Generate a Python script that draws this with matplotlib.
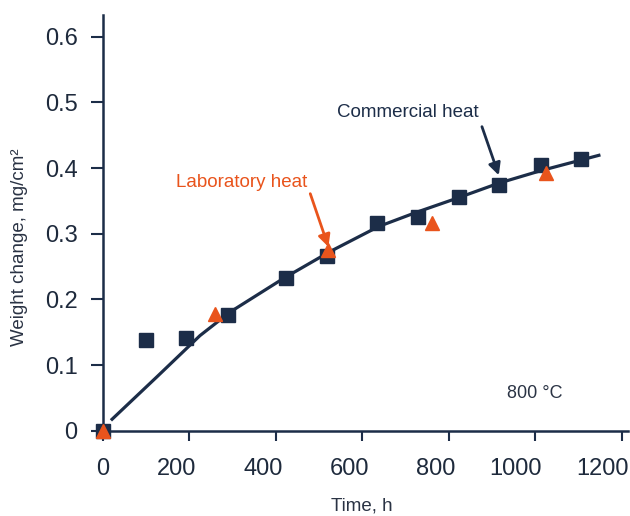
import matplotlib
matplotlib.use("Agg")
import matplotlib.pyplot as plt
import matplotlib.transforms as mtransforms

plt.rcParams['font.family'] = ['Liberation Sans', 'DejaVu Sans']

navy = '#1c2d48'
orange = '#e9541c'

# commercial heat (squares)
t_com = [0, 100, 193, 289, 424, 518, 634, 729, 825, 916, 1013, 1106]
w_com = [0.0, 0.138, 0.142, 0.176, 0.232, 0.266, 0.317, 0.326, 0.356, 0.374, 0.405, 0.414]

# laboratory heat (triangles)
t_lab = [0, 260, 522, 761, 1024]
w_lab = [0.0, 0.178, 0.276, 0.316, 0.392]

# fitted curve
t_fit = [19, 125, 225, 295, 418, 526, 638, 727, 819, 916, 1013, 1151]
w_fit = [0.016, 0.082, 0.145, 0.181, 0.232, 0.273, 0.311, 0.333, 0.354, 0.377, 0.396, 0.420]

x_ticks = [0, 200, 400, 600, 800, 1000, 1200]
y_ticks = [0, 0.1, 0.2, 0.3, 0.4, 0.5, 0.6]
y_labels = ['0', '0.1', '0.2', '0.3', '0.4', '0.5', '0.6']

fig = plt.figure(figsize=(6.3, 5.16), dpi=100)
ax = fig.add_axes([0.163, 0.165, 0.834, 0.806])

ax.plot(t_fit, w_fit, color=navy, lw=2.3, solid_capstyle='butt', zorder=2)
ax.plot(t_com, w_com, 's', color=navy, ms=9.5, clip_on=False, zorder=3)
ax.plot(t_lab, w_lab, '^', color=orange, ms=10, clip_on=False, zorder=4)

ax.set_xlim(0, 1215)
ax.set_ylim(0, 0.633)
ax.set_xticks(x_ticks)
ax.set_yticks(y_ticks)
ax.set_yticklabels(y_labels)

for s in ['top', 'right']:
    ax.spines[s].set_visible(False)
for s in ['left', 'bottom']:
    ax.spines[s].set_color(navy)
    ax.spines[s].set_linewidth(1.8)

ax.tick_params(axis='x', length=7.5, width=1.5, pad=12, color=navy,
               labelsize=17, labelcolor='#1e2a3c')
ax.tick_params(axis='y', length=9, width=1.5, pad=9, color=navy,
               labelsize=17, labelcolor='#1e2a3c')

# x tick labels sit right-aligned a little past the tick
shift = mtransforms.ScaledTranslation(7 / 100, 0, fig.dpi_scale_trans)
for lab in ax.get_xticklabels():
    lab.set_ha('right')
    lab.set_transform(lab.get_transform() + shift)

ax.set_xlabel('Time, h', fontsize=13.5, color='#2a3344')
ax.xaxis.set_label_coords(0.4927, -0.181)
ax.xaxis.label.set_va('center')
ax.set_ylabel('Weight change, mg/cm²', fontsize=13.5, color='#2a3344')
ax.yaxis.set_label_coords(-0.159, 0.442)
ax.yaxis.label.set_va('center')

arrow = dict(arrowstyle='-|>', lw=2, mutation_scale=18, shrinkA=0, shrinkB=0)

ax.text(705, 0.484, 'Commercial heat', color=navy, fontsize=13.5,
        ha='center', va='center')
ax.annotate('', xy=(916, 0.389), xytext=(877, 0.463),
            arrowprops=dict(arrow, color=navy))

ax.text(322, 0.378, 'Laboratory heat', color=orange, fontsize=13.5,
        ha='center', va='center')
ax.annotate('', xy=(522, 0.280), xytext=(480, 0.361),
            arrowprops=dict(arrow, color=orange))

ax.text(998, 0.057, '800 °C', color='#2a3344', fontsize=13, ha='center', va='center')

fig.savefig('out.png', dpi=100)
